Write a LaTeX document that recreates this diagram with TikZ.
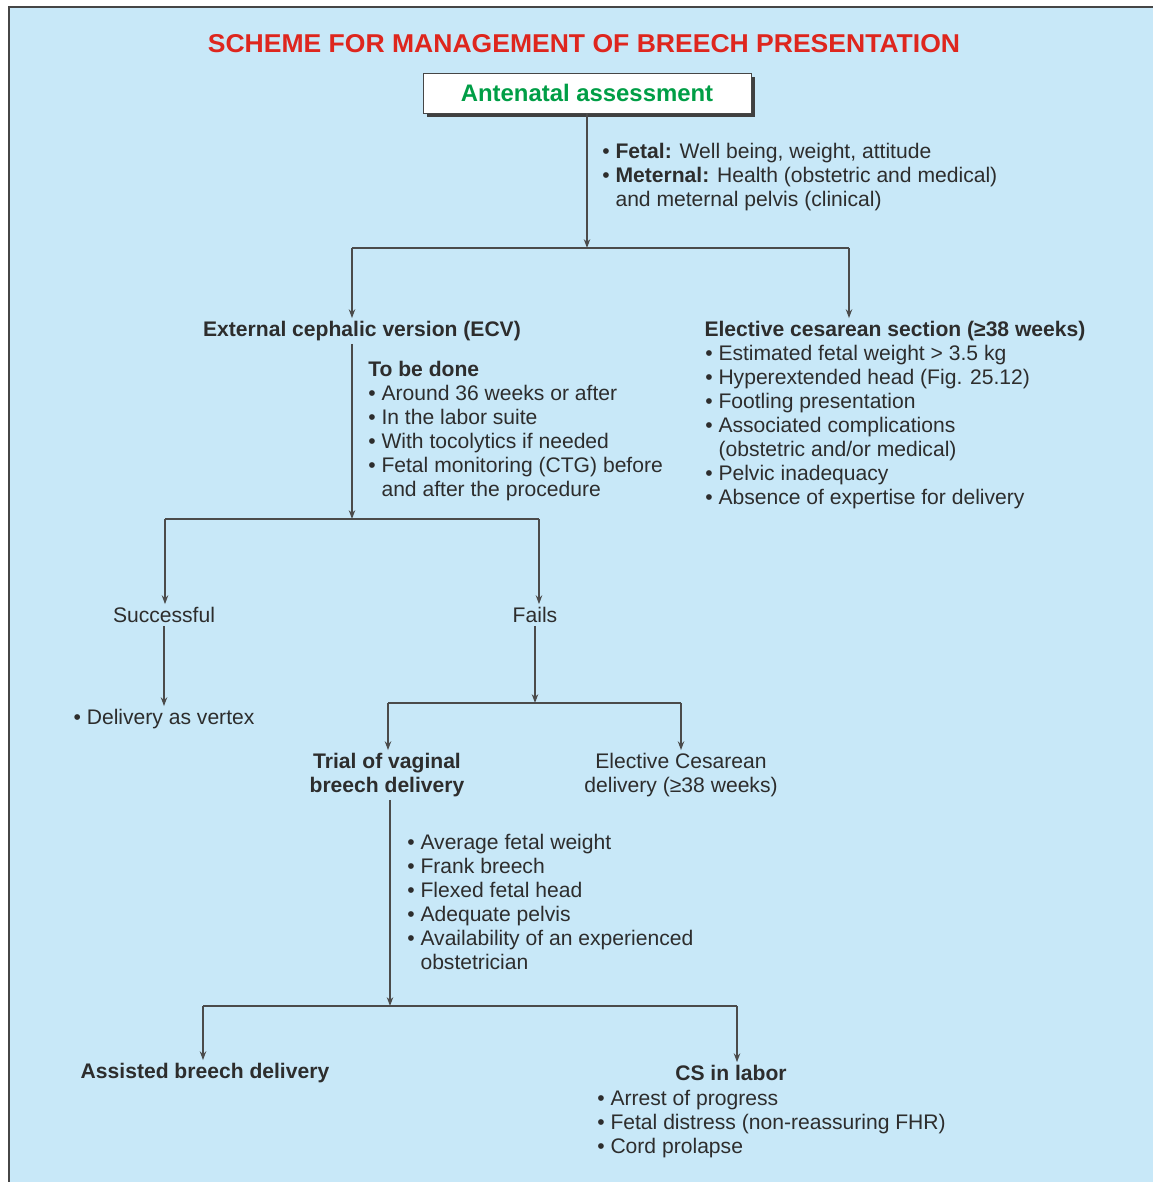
\documentclass[tikz,border=0pt]{standalone}
\usepackage{fontspec}
\setmainfont{Liberation Sans}
\usepackage{graphicx}
\usepackage{tikz}
\usetikzlibrary{positioning}
\usetikzlibrary{arrows.meta}
\usetikzlibrary{shadows}
\definecolor{bgblue}{RGB}{200,232,248}
\definecolor{framegray}{RGB}{70,70,70}
\definecolor{linegray}{RGB}{75,75,75}
\definecolor{txtgray}{RGB}{45,45,45}
\definecolor{titlered}{RGB}{222,38,30}
\definecolor{antegreen}{RGB}{0,158,70}
\newcommand{\itm}{\textbullet\ }
\newcommand{\cnt}{\phantom{\textbullet\ }}

\begin{document}
\begin{tikzpicture}[x=0.025cm, y=-0.025cm,
	txt/.style={text=txtgray, font=\fontsize{15}{17.07}\selectfont, inner sep=2pt},
	hd/.style={txt, font=\fontsize{15}{17.07}\selectfont\bfseries},
	lst/.style={txt, align=left, anchor=north west, inner sep=0pt},
	link/.style={draw=linegray, line width=1pt},
	arr/.style={link, -{Stealth[length=2.2mm, width=1.6mm]}}]
	
	% ---- frame ----
	\useasboundingbox (0,0) rectangle (1153,1182);
	\fill[white] (0,0) rectangle (1153,1182);
	\fill[bgblue] (8,6) rectangle (1153,1182);
	\draw[framegray, line width=2pt] (9,1182) -- (9,7) -- (1153,7);
	
	% ---- top: title and assessment ----
	\node[text=titlered, font=\bfseries] (title) at (584,44)
	{\resizebox{18.8cm}{0.45cm}{SCHEME FOR MANAGEMENT OF BREECH PRESENTATION}};
	
	\node[draw=framegray, fill=white, minimum width=8.2cm, minimum height=1cm,
	text=antegreen, font=\fontsize{17}{20}\selectfont\bfseries,
	drop shadow={fill=black!75, opacity=1, shadow xshift=0.1cm, shadow yshift=-0.1cm}]
	(ante) at (587,93) {Antenatal assessment};
	
	\node[lst] (antenote) at (602,143)
	{\itm\textbf{Fetal:} Well being, weight, attitude\\
		\itm\textbf{Meternal:} Health (obstetric and medical)\\
		\cnt and meternal pelvis (clinical)};
	
	\coordinate (J1) at (587,248);
	\coordinate (J1L) at (352,248);
	\coordinate (J1R) at (849,248);
	\draw[arr] (ante) -- (J1);
	\draw[link] (J1L) -- (J1R);
	
	% ---- left: ECV ----
	\node[hd] (ecv) at (362,331) {External cephalic version (ECV)};
	\draw[arr] (J1L) -- (J1L |- ecv.north);
	
	\node[lst] (todo) at (368,361)
	{\textbf{To be done}\\
		\itm Around 36 weeks or after\\
		\itm In the labor suite\\
		\itm With tocolytics if needed\\
		\itm Fetal monitoring (CTG) before\\
		\cnt and after the procedure};
	
	% ---- right: elective cesarean ----
	\node[hd] (ecs) at (895,331) {Elective cesarean section (≥38 weeks)};
	\draw[arr] (J1R) -- (J1R |- ecs.north);
	
	\node[lst] (ecslist) at (705,345)
	{\itm Estimated fetal weight > 3.5 kg\\
		\itm Hyperextended head (Fig. 25.12)\\
		\itm Footling presentation\\
		\itm Associated complications\\
		\cnt (obstetric and/or medical)\\
		\itm Pelvic inadequacy\\
		\itm Absence of expertise for delivery};
	
	% ---- ECV outcome ----
	\coordinate (J2) at (352,519);
	\coordinate (J2L) at (165,519);
	\coordinate (J2R) at (539,519);
	\draw[arr] (ecv.south -| J2) -- (J2);
	\draw[link] (J2L) -- (J2R);
	
	\node[txt] (succ) at (164,615) {Successful};
	\node[txt] (fails) at (535,615) {Fails};
	\draw[arr] (J2L) -- (J2L |- succ.north);
	\draw[arr] (J2R) -- (J2R |- fails.north);
	
	\node[txt] (vertex) at (164,719) {\itm Delivery as vertex};
	\draw[arr] (succ) -- (vertex);
	
	\coordinate (J3) at (535,703);
	\coordinate (J3L) at (388,703);
	\coordinate (J3R) at (681,703);
	\draw[arr] (fails) -- (J3);
	\draw[link] (J3L) -- (J3R);
	
	\node[hd, align=center] (trial) at (387,775) {Trial of vaginal\\breech delivery};
	\node[txt, align=center] (elcd) at (681,775) {Elective Cesarean\\delivery (≥38 weeks)};
	\draw[arr] (J3L) -- (J3L |- trial.north);
	\draw[arr] (J3R) -- (J3R |- elcd.north);
	
	% ---- trial of labour ----
	\node[lst] (trialnote) at (407,834)
	{\itm Average fetal weight\\
		\itm Frank breech\\
		\itm Flexed fetal head\\
		\itm Adequate pelvis\\
		\itm Availability of an experienced\\
		\cnt obstetrician};
	
	\coordinate (J4) at (390,1006);
	\coordinate (J4L) at (203,1006);
	\coordinate (J4R) at (737,1006);
	\draw[arr] (trial.south -| J4) -- (J4);
	\draw[link] (J4L) -- (J4R);
	
	\node[hd] (assist) at (205,1073) {Assisted breech delivery};
	\node[hd] (cslab) at (731,1073) {CS in labor};
	\draw[arr] (J4L) -- (J4L |- assist.north);
	\draw[arr] (J4R) -- (J4R |- cslab.north);
	
	\node[lst] (cslist) at (597,1090)
	{\itm Arrest of progress\\
		\itm Fetal distress (non-reassuring FHR)\\
		\itm Cord prolapse};
	
\end{tikzpicture}
\end{document}
